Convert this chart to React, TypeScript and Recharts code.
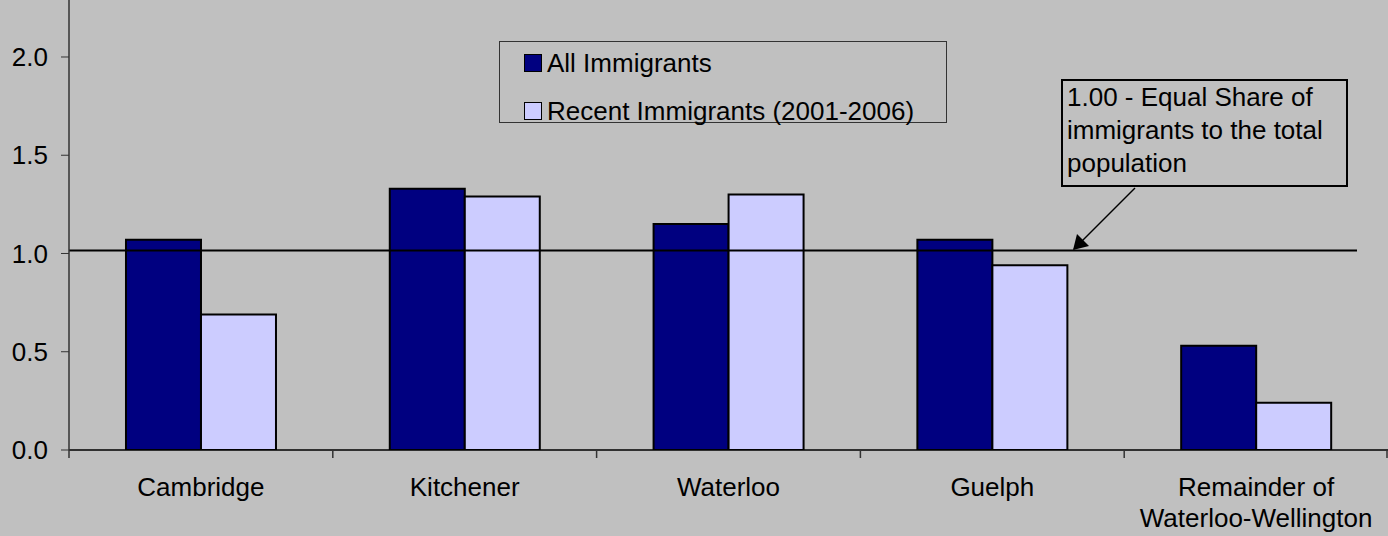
import { BarChart, Bar, XAxis, YAxis, ReferenceLine } from 'recharts'

const categories = ['Cambridge', 'Kitchener', 'Waterloo', 'Guelph', 'Remainder of\nWaterloo-Wellington']
const allImmigrants = [1.07, 1.33, 1.15, 1.07, 0.53]
const recentImmigrants = [0.69, 1.29, 1.3, 0.94, 0.24]
const yTicks = [0, 0.5, 1.0, 1.5, 2.0]
const equalShare = 1.015

const series = [
  { key: 'all', name: 'All Immigrants', color: '#000080' },
  { key: 'recent', name: 'Recent Immigrants (2001-2006)', color: '#CCCCFF' },
]

const data = categories.map((c, i) => ({
  name: c,
  all: allImmigrants[i],
  recent: recentImmigrants[i],
}))

const W = 1388
const H = 536
const Y_W = 69
const X_H = 86
const BAND = (W - Y_W) / categories.length
const FONT = '"Liberation Sans", Arial, sans-serif'

const XTick = (props: any) => {
  const { x, y, payload, index } = props
  const lines = String(payload.value).split('\n')
  return (
    <g>
      <line x1={x - BAND / 2} x2={x - BAND / 2} y1={y} y2={y + 8} stroke="#333" strokeWidth={1.5} />
      {index === categories.length - 1 && (
        <line x1={x + BAND / 2 - 1} x2={x + BAND / 2 - 1} y1={y} y2={y + 8} stroke="#333" strokeWidth={1.5} />
      )}
      {lines.map((l, i) => (
        <text key={i} x={x} y={y + 46 + i * 31} textAnchor="middle" fontSize={26} fontFamily={FONT} fill="#000">
          {l}
        </text>
      ))}
    </g>
  )
}

const ShortLine = (props: any) => {
  const { x1, y1, x2, y2 } = props
  return <line x1={x1} y1={y1} x2={x2 - 31} y2={y2} stroke="#000" strokeWidth={2} />
}

export default function App() {
  return (
    <div style={{ position: 'absolute', left: 0, top: 0, width: W, height: H, background: '#C0C0C0', fontFamily: FONT }}>
      <BarChart
        width={W}
        height={H}
        data={data}
        margin={{ top: 0, right: 0, left: 0, bottom: 0 }}
        barCategoryGap="21.6%"
        barGap={0}
      >
        <XAxis
          dataKey="name"
          height={X_H}
          interval={0}
          tickLine={false}
          tickSize={0}
          tickMargin={0}
          tick={<XTick />}
          axisLine={{ stroke: '#000', strokeWidth: 1.5 }}
        />
        <YAxis
          width={Y_W}
          domain={[0, 2.29]}
          ticks={yTicks}
          tickFormatter={(v: number) => v.toFixed(1)}
          tickSize={8}
          tickMargin={13}
          tick={{ fontSize: 26, fill: '#000', fontFamily: FONT }}
          tickLine={{ stroke: '#333' }}
          axisLine={{ stroke: '#333', strokeWidth: 1.5 }}
          allowDataOverflow
        />
        {series.map((s) => (
          <Bar key={s.key} dataKey={s.key} name={s.name} fill={s.color} stroke="#000" strokeWidth={2} isAnimationActive={false} />
        ))}
        <ReferenceLine y={equalShare} shape={<ShortLine />} />
      </BarChart>

      {/* legend */}
      <div
        style={{
          position: 'absolute',
          left: 499,
          top: 41,
          width: 446,
          height: 80,
          border: '1px solid #333',
        }}
      >
        {series.map((s, i) => (
          <div
            key={s.key}
            style={{
              position: 'absolute',
              left: 24,
              top: 21 + i * 48 - 16,
              height: 32,
              display: 'flex',
              alignItems: 'center',
              fontSize: 26,
              whiteSpace: 'nowrap',
            }}
          >
            <span
              style={{
                display: 'inline-block',
                width: 16,
                height: 16,
                background: s.color,
                border: '1.5px solid #000',
                marginRight: 5,
              }}
            />
            {s.name}
          </div>
        ))}
      </div>

      {/* annotation */}
      <div
        style={{
          position: 'absolute',
          left: 1061,
          top: 79,
          width: 279,
          height: 104,
          border: '2px solid #000',
          fontSize: 26,
          lineHeight: '33px',
          paddingLeft: 4,
          boxSizing: 'content-box',
          whiteSpace: 'nowrap',
        }}
      >
        1.00 - Equal Share of
        <br />
        immigrants to the total
        <br />
        population
      </div>
      <svg style={{ position: 'absolute', left: 0, top: 0, pointerEvents: 'none' }} width={W} height={H}>
        <defs>
          <marker id="ah" markerWidth="10" markerHeight="10" refX="9" refY="5" orient="auto" markerUnits="userSpaceOnUse">
            <path d="M0,0 L10,5 L0,10 z" fill="#000" />
          </marker>
        </defs>
        <line x1={1135} y1={188} x2={1074} y2={249} stroke="#000" strokeWidth={1.5} />
        <path d="M1073,250 L1077,234 L1089,246 z" fill="#000" />
      </svg>
    </div>
  )
}
